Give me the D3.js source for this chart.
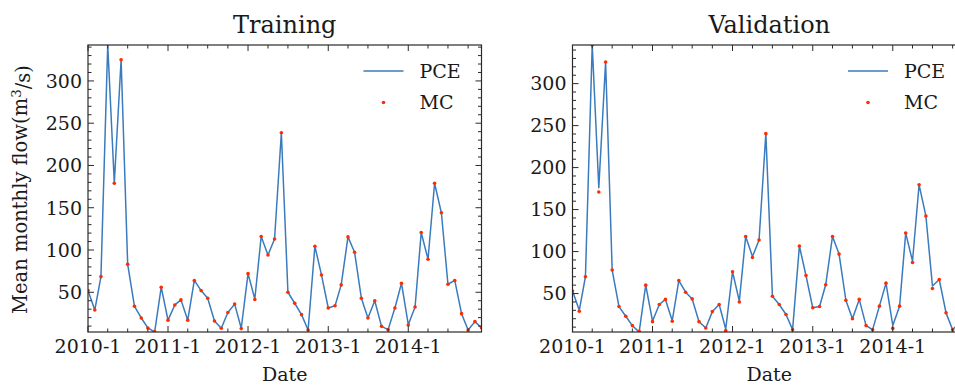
<!DOCTYPE html>
<html>
<head>
<meta charset="utf-8">
<script src="https://cdn.jsdelivr.net/npm/d3@7"></script>
<style>
body { margin: 0; background: #fff; }
text { font-family: "DejaVu Serif", serif; fill: #1a1a1a; }
</style>
</head>
<body>
<div id="chart"></div>
<script>
// monthly series, 2010-1 .. 2014-12
var trainPCE = [52, 29, 68.5, 342.5, 179.5, 325, 83, 33.4, 19.6, 7.8,
    3, 56, 17, 35, 41, 17, 64, 52, 43, 16,
    7.4, 26, 36, 7.4, 72, 42, 116, 94, 113, 238.7,
    50, 37, 23.5, 5.4, 104.5, 70.5, 31.4, 34, 58.7, 115.5,
    97.4, 43, 19.6, 40, 9.7, 5.8, 31.4, 60.7, 11.7, 32.6,
    120.7, 89, 179, 144, 59.5, 64, 24.7, 5.4, 15.3, 8];
var trainMC = [52, 29, 68.5, 346, 179, 325, 83, 33.4, 19.6, 7.8,
    3.5, 56, 17, 35, 41, 17, 64, 52, 43, 16,
    7.4, 26, 36, 7, 72, 41.5, 116, 94, 113, 238.7,
    50, 37, 23.5, 5.4, 104.5, 70.5, 31.4, 34, 58.7, 115.5,
    97.4, 43, 19.6, 40, 9.7, 5.8, 31.4, 60.7, 11.2, 32.6,
    120.7, 89, 179, 144, 59.5, 64, 24.7, 5.4, 15.3, 8];
var validPCE = [53, 30, 70, 346, 176, 325.7, 78, 34.5, 23, 11.8,
    4.2, 60, 17.3, 37, 43, 17.7, 65.5, 51.6, 43.6, 16.5,
    9, 28.5, 37, 7.8, 76, 41, 118, 94, 113.7, 240.4,
    46.8, 37, 25, 7, 106.6, 71.5, 33, 34.5, 60.4, 118,
    97, 42, 20, 43, 11.8, 7, 35, 62.4, 12, 35,
    122, 88.6, 179.5, 142.4, 59, 66.7, 27, 7, 15, 9];
var validMC = [53, 29, 70, 346, 171, 325.7, 78, 34.5, 23, 11.8,
    5, 60, 16.5, 37, 43, 17, 65.5, 51.6, 43.6, 16.5,
    9, 28.5, 37, 6, 76, 40, 118, 93, 113.7, 240.4,
    46.8, 37, 25, 7, 106.6, 71.5, 33, 34.5, 60.4, 118,
    97, 42, 20, 43, 11.8, 7, 35, 62.4, 8.5, 35,
    122, 87, 179.5, 142.4, 56, 66.7, 27, 7, 15, 9];
var yTicks = [50, 100, 150, 200, 250, 300];
var xTickYears = [2010, 2011, 2012, 2013, 2014];
var legendNames = ["PCE", "MC"];

var width = 955, height = 386;
var lineColor = "#3a7bbd", dotColor = "#ff2c00", axisColor = "#2a2a2a";
var months = d3.timeMonth.range(new Date(2010, 0, 1), new Date(2015, 0, 1));

var svg = d3.select("#chart")
    .append("svg")
    .attr("width", width)
    .attr("height", height)

function drawpanel(cfg) {
    var x = d3.scaleTime()
        .domain([months[0], months[months.length - 1]])
        .range([cfg.left, cfg.right]);
    var y = d3.scaleLinear()
        .domain(d3.extent(cfg.pce))
        .range([cfg.bottom, cfg.top]);

    var g = svg.append("g").attr("class", "panel");
    var clipid = "clip" + cfg.id;

    g.append("clipPath").attr("id", clipid)
        .append("rect")
        .attr("x", cfg.left).attr("y", cfg.top)
        .attr("width", cfg.right - cfg.left)
        .attr("height", cfg.bottom - cfg.top);

    var plot = g.append("g").attr("clip-path", "url(#" + clipid + ")");

    var line = d3.line()
        .x(function(d, i) { return x(months[i]); })
        .y(function(d) { return y(d); });

    plot.append("path")
        .datum(cfg.pce)
        .attr("d", line)
        .attr("fill", "none")
        .attr("stroke", lineColor)
        .attr("stroke-width", 1.5)
        .attr("stroke-linejoin", "round");

    plot.selectAll("circle.mc")
        .data(cfg.mc)
        .enter().append("circle")
        .attr("class", "mc")
        .attr("cx", function(d, i) { return x(months[i]); })
        .attr("cy", function(d) { return y(d); })
        .attr("r", 1.8)
        .attr("fill", dotColor);

    // ticks point inward on all four sides
    var majorX = xTickYears.map(function(yr) { return new Date(yr, 0, 1); });
    var minorX = d3.timeMonth.every(3).range(months[0], new Date(2015, 0, 1))
        .filter(function(d) { return d.getMonth() != 0 && d <= months[months.length - 1]; });
    var minorY = d3.range(10, 350, 10).filter(function(v) {
        return v % 50 != 0 && v >= y.domain()[0] && v <= y.domain()[1];
    });

    var ticks = g.append("g").attr("stroke", axisColor).attr("stroke-width", 1);

    function xtick(d, len) {
        var px = x(d);
        ticks.append("line").attr("x1", px).attr("x2", px)
            .attr("y1", cfg.bottom).attr("y2", cfg.bottom - len);
        ticks.append("line").attr("x1", px).attr("x2", px)
            .attr("y1", cfg.top).attr("y2", cfg.top + len);
    }

    function ytick(v, len) {
        var py = y(v);
        ticks.append("line").attr("y1", py).attr("y2", py)
            .attr("x1", cfg.left).attr("x2", cfg.left + len);
        ticks.append("line").attr("y1", py).attr("y2", py)
            .attr("x1", cfg.right).attr("x2", cfg.right - len);
    }

    majorX.forEach(function(d) { xtick(d, 6); });
    minorX.forEach(function(d) { xtick(d, 3.5); });
    yTicks.forEach(function(v) { ytick(v, 6); });
    minorY.forEach(function(v) { ytick(v, 3.5); });

    g.append("rect")
        .attr("x", cfg.left).attr("y", cfg.top)
        .attr("width", cfg.right - cfg.left)
        .attr("height", cfg.bottom - cfg.top)
        .attr("fill", "none")
        .attr("stroke", axisColor)
        .attr("stroke-width", 1.2);

    // tick labels
    g.selectAll("text.xlab")
        .data(majorX)
        .enter().append("text")
        .attr("class", "xlab")
        .attr("x", function(d) { return x(d); })
        .attr("y", cfg.bottom + 21)
        .attr("text-anchor", "middle")
        .style("font-size", "19px")
        .text(function(d) { return d.getFullYear() + "-" + (d.getMonth() + 1); });

    g.selectAll("text.ylab")
        .data(yTicks)
        .enter().append("text")
        .attr("class", "ylab")
        .attr("x", cfg.left - 6)
        .attr("y", function(d) { return y(d); })
        .attr("dy", "0.36em")
        .attr("text-anchor", "end")
        .style("font-size", "19px")
        .text(function(d) { return d; });

    var cx = (cfg.left + cfg.right) / 2;
    g.append("text")
        .attr("x", cx).attr("y", 33)
        .attr("text-anchor", "middle")
        .style("font-size", "24px")
        .text(cfg.title);

    g.append("text")
        .attr("x", cx).attr("y", 381)
        .attr("text-anchor", "middle")
        .style("font-size", "19px")
        .text("Date");

    if (cfg.ylabel) {
        var yl = g.append("text")
            .attr("transform", "translate(27," + ((cfg.top + cfg.bottom) / 2 + 1) + ") rotate(-90)")
            .attr("text-anchor", "middle")
            .style("font-size", "19.5px");
        yl.append("tspan").text("Mean monthly flow(m");
        yl.append("tspan").attr("dy", "-0.45em").style("font-size", "13.5px").text("3");
        yl.append("tspan").attr("dy", "0.45em").text("/s)");
    }

    // legend
    var lx = cfg.right - 118;
    g.append("line")
        .attr("x1", lx).attr("x2", lx + 40)
        .attr("y1", 71).attr("y2", 71)
        .attr("stroke", lineColor)
        .attr("stroke-width", 1.5);
    g.append("circle")
        .attr("cx", lx + 20).attr("cy", 102.5)
        .attr("r", 1.8)
        .attr("fill", dotColor);
    g.selectAll("text.leg")
        .data(legendNames)
        .enter().append("text")
        .attr("class", "leg")
        .attr("x", lx + 56)
        .attr("y", function(d, i) { return 71 + i * 31.5; })
        .attr("dy", "0.36em")
        .style("font-size", "19px")
        .text(function(d) { return d; });
}

drawpanel({ id: 0, title: "Training", pce: trainPCE, mc: trainMC,
    left: 88, right: 481.5, top: 45, bottom: 332, ylabel: true });
drawpanel({ id: 1, title: "Validation", pce: validPCE, mc: validMC,
    left: 572.5, right: 966, top: 45, bottom: 332, ylabel: false });
</script>
</body>
</html>
